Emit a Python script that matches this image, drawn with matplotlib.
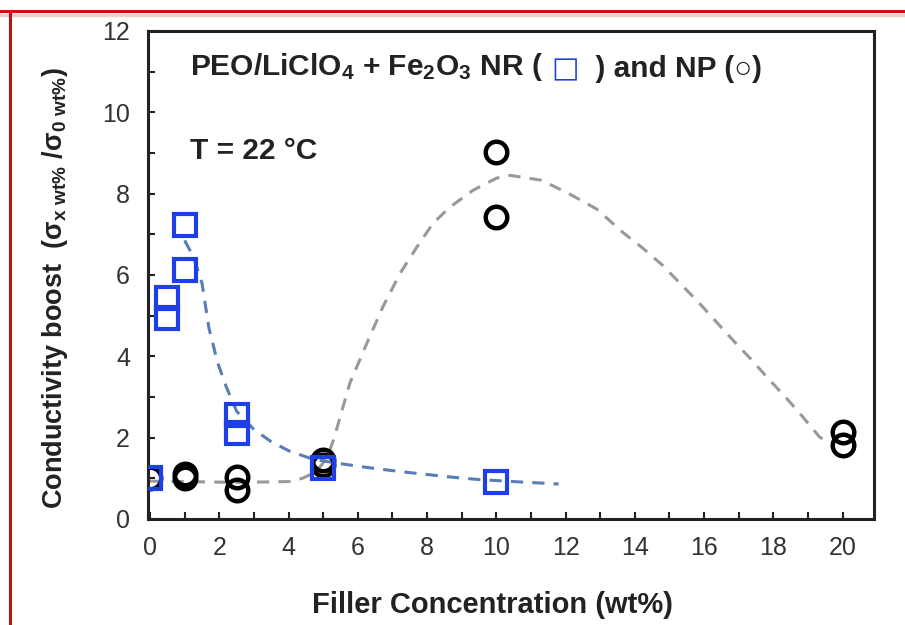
import numpy as np
import matplotlib
matplotlib.use("Agg")
import matplotlib.pyplot as plt
from matplotlib.lines import Line2D
from matplotlib.ticker import MultipleLocator

plt.rcParams['font.family'] = ['Liberation Sans', 'DejaVu Sans']
plt.rcParams['mathtext.fontset'] = 'custom'
plt.rcParams['mathtext.rm'] = 'Liberation Sans:bold'
plt.rcParams['mathtext.it'] = 'Liberation Sans:bold'
plt.rcParams['mathtext.bf'] = 'Liberation Sans:bold'
plt.rcParams['mathtext.default'] = 'rm'

# nanorods (NR) - measured boost
nr_conc = [0, 0.5, 0.5, 1, 1, 2.5, 2.5, 5, 10]
nr_boost = [1.0, 5.43, 4.94, 7.22, 6.12, 2.55, 2.11, 1.25, 0.92]

# nanoparticles (NP) - measured boost
np_conc = [0, 1, 1, 2.5, 2.5, 5, 5, 10, 10, 20, 20]
np_boost = [1.0, 1.1, 1.0, 1.03, 0.72, 1.45, 1.33, 9.02, 7.42, 2.14, 1.82]

# guide-to-the-eye curves
nr_fit_x = [1.0, 1.25, 1.5, 1.7, 1.95, 2.2, 2.5, 3.0, 3.5, 4.0, 4.7, 5.5, 6.5, 7.5, 8.7, 9.5, 10.5, 11.8]
nr_fit_y = [6.85, 6.45, 5.8, 4.7, 3.85, 3.25, 2.65, 2.2, 1.9, 1.68, 1.47, 1.36, 1.24, 1.14, 1.03, 0.97, 0.92, 0.86]

np_fit_x = [0, 1, 2.5, 4.0, 4.4, 4.7, 4.95, 5.15, 5.3, 5.77, 6.26, 6.72, 7.22, 7.7, 8.17, 8.66, 9.32, 10.0,
            10.4, 11.3, 12.1, 12.9, 13.65, 14.23, 14.8, 15.3, 15.87, 16.36, 16.83, 17.32, 17.89,
            18.38, 18.85, 19.34, 19.6]
np_fit_y = [0.93, 0.92, 0.9, 0.92, 1.0, 1.12, 1.32, 1.6, 1.95, 3.34, 4.32, 5.21, 6.04, 6.68, 7.27, 7.67, 8.08, 8.38,
            8.45, 8.33, 8.0, 7.62, 7.05, 6.66, 6.24, 5.8, 5.3, 4.84, 4.4, 3.96, 3.42,
            2.97, 2.51, 2.01, 1.9]

blue = '#1f3fe6'
blue_line = '#5a7db5'
ink = '#222222'

fig = plt.figure(figsize=(9.05, 6.25), dpi=100)
ax = fig.add_axes([0.1635, 0.1696, 0.802, 0.7808])

ax.plot(np_fit_x, np_fit_y, '--', color='#999999', lw=2.2, dashes=(4, 3), zorder=1)
ax.plot(nr_fit_x, nr_fit_y, '--', color=blue_line, lw=2.2, dashes=(4, 3), zorder=1)

ax.plot(np_conc, np_boost, 'o', ms=15.5, mfc='none', mec='black', mew=3.2, zorder=3)
ax.plot(nr_conc, nr_boost, 's', ms=15.5, mfc='none', mec=blue, mew=3, zorder=4)

ax.set_xlim(-0.06, 20.9)
ax.set_ylim(0, 12)
ax.xaxis.set_major_locator(MultipleLocator(2))
ax.xaxis.set_minor_locator(MultipleLocator(1))
ax.yaxis.set_major_locator(MultipleLocator(2))
ax.yaxis.set_minor_locator(MultipleLocator(1))
ax.tick_params(which='both', direction='in', length=5, width=1.5, color=ink)
ax.tick_params(axis='x', which='major', pad=12, labelsize=18, labelcolor='#333333')
ax.tick_params(axis='y', which='major', pad=13, labelsize=18, labelcolor='#333333')
for s in ax.spines.values():
    s.set_linewidth(2.2)
    s.set_color(ink)

ax.set_xlabel('Filler Concentration (wt%)', fontsize=21, fontweight='bold', color=ink)
ax.xaxis.set_label_coords(0.474, -0.148)
ax.set_ylabel(r'Conductivity boost  (σ$_{x\ wt\%}$ /σ$_{0\ wt\%}$)', fontsize=19.5,
              fontweight='bold', color=ink)
ax.yaxis.set_label_coords(-0.108, 0.473)

# header text with a blue square symbol
tk = dict(fontsize=21.5, fontweight='bold', color=ink)
t1 = ax.text(0.058, 0.893, r'PEO/LiClO$_4$ + Fe$_2$O$_3$ NR (  ', transform=ax.transAxes, va='bottom', **tk)
t2 = ax.annotate('□', xy=(1, 0), xycoords=t1, va='bottom', fontsize=21, fontweight='bold',
                 color=blue, family=['DejaVu Sans'])
t3 = ax.annotate('  ) and NP (○)', xy=(1, 0), xycoords=t2, va='bottom', **tk)
ax.text(0.058, 0.755, 'T = 22 °C', transform=ax.transAxes, va='center', **tk)

# frame around the figure
fig.add_artist(Line2D([0.0, 1.0], [0.983, 0.983], color='#d01010', lw=2.2, transform=fig.transFigure))
fig.add_artist(Line2D([0.0, 1.0], [0.976, 0.976], color='#f3cccc', lw=2.5, transform=fig.transFigure))
fig.add_artist(Line2D([0.011, 0.011], [0.0, 0.983], color='#c01010', lw=2.2, transform=fig.transFigure))

fig.savefig('out.png', dpi=100)
